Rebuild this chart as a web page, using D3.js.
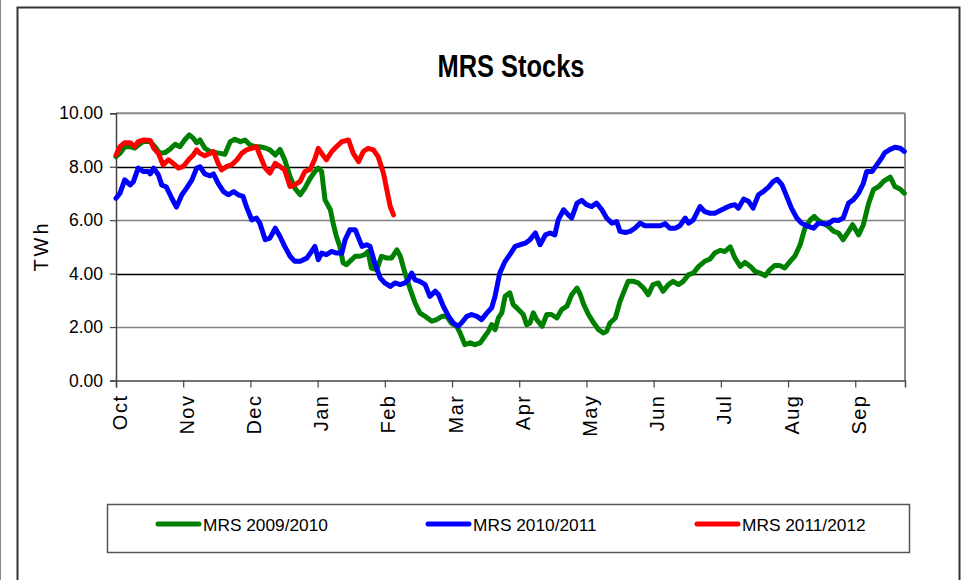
<!DOCTYPE html>
<html><head><meta charset="utf-8">
<script src="https://cdn.jsdelivr.net/npm/d3@7/dist/d3.min.js"></script>
<style>
body{margin:0;background:#fff}
svg{display:block}
text{font-family:"Liberation Sans",Arial,Helvetica,sans-serif;fill:#000}
</style>
</head><body>
<svg id="chart" width="961" height="580"></svg>
<script>
// ---------- data ----------
const chartTitle = "MRS Stocks";
const yAxisLabel = "TWh";
const monthLabels = ["Oct","Nov","Dec","Jan","Feb","Mar","Apr","May","Jun","Jul","Aug","Sep"];
const yTickValues = [0, 2, 4, 6, 8, 10];
const seriesNames = ["MRS 2009/2010", "MRS 2010/2011", "MRS 2011/2012"];
const seriesColors = ["#008000", "#0000ff", "#ff0000"];
const xMax = 11.74; // months after 1 Oct where the axis ends

// [months since 1 Oct, TWh]
const mrs2009 = [
 [0.00,8.38],[0.06,8.50],[0.13,8.75],[0.21,8.75],[0.28,8.70],[0.33,8.80],[0.41,8.95],[0.51,8.94],
 [0.58,8.75],[0.65,8.50],[0.73,8.53],[0.80,8.65],[0.88,8.84],[0.95,8.75],[1.03,9.03],[1.09,9.19],
 [1.15,9.07],[1.20,8.90],[1.25,9.00],[1.32,8.70],[1.40,8.57],[1.47,8.53],[1.55,8.50],[1.62,8.47],
 [1.70,8.94],[1.77,9.03],[1.85,8.94],[1.92,9.00],[1.99,8.82],[2.07,8.75],[2.14,8.75],[2.22,8.70],
 [2.29,8.63],[2.37,8.44],[2.44,8.65],[2.51,8.26],[2.59,7.63],[2.66,7.20],[2.74,6.95],[2.81,7.20],
 [2.89,7.57],[2.96,7.82],[3.01,7.95],[3.06,7.82],[3.11,6.76],[3.19,6.39],[3.23,5.89],[3.28,5.39],
 [3.33,5.02],[3.38,4.40],[3.43,4.33],[3.48,4.46],[3.56,4.65],[3.63,4.65],[3.70,4.71],[3.75,4.83],
 [3.80,4.21],[3.88,4.15],[3.95,4.65],[4.03,4.58],[4.10,4.58],[4.18,4.89],[4.23,4.65],[4.30,4.02],
 [4.38,3.40],[4.45,2.90],[4.52,2.53],[4.60,2.40],[4.70,2.22],[4.77,2.28],[4.85,2.40],[4.92,2.40],
 [4.99,2.15],[5.07,2.03],[5.12,1.78],[5.19,1.34],[5.27,1.41],[5.34,1.34],[5.42,1.41],[5.47,1.59],
 [5.54,1.84],[5.59,2.09],[5.64,1.90],[5.69,2.34],[5.74,2.53],[5.79,3.15],[5.86,3.28],[5.91,2.84],
 [5.99,2.65],[6.06,2.47],[6.11,2.09],[6.16,2.15],[6.21,2.53],[6.26,2.28],[6.34,2.03],[6.41,2.47],
 [6.48,2.47],[6.56,2.34],[6.63,2.65],[6.71,2.78],[6.78,3.21],[6.86,3.46],[6.91,3.21],[6.96,2.84],
 [7.03,2.47],[7.11,2.15],[7.18,1.90],[7.25,1.78],[7.30,1.84],[7.35,2.15],[7.43,2.34],[7.50,2.96],
 [7.57,3.40],[7.62,3.71],[7.70,3.71],[7.77,3.65],[7.85,3.46],[7.92,3.21],[7.99,3.59],[8.07,3.65],
 [8.14,3.34],[8.22,3.59],[8.29,3.71],[8.37,3.59],[8.44,3.71],[8.52,3.96],[8.59,4.02],[8.67,4.27],
 [8.76,4.46],[8.84,4.55],[8.91,4.77],[8.99,4.87],[9.06,4.83],[9.14,5.00],[9.21,4.58],[9.29,4.27],
 [9.36,4.42],[9.44,4.27],[9.51,4.08],[9.58,4.02],[9.66,3.92],[9.73,4.15],[9.80,4.30],[9.88,4.30],
 [9.95,4.21],[10.03,4.46],[10.10,4.65],[10.18,5.08],[10.25,5.70],[10.33,6.01],[10.39,6.14],[10.45,5.99],
 [10.53,5.87],[10.60,5.77],[10.68,5.58],[10.75,5.52],[10.82,5.27],[10.90,5.58],[10.96,5.83],[11.05,5.45],
 [11.12,5.83],[11.20,6.64],[11.27,7.14],[11.35,7.26],[11.42,7.45],[11.52,7.61],[11.59,7.26],[11.67,7.16],
 [11.73,7.01]
];
const mrs2010 = [
 [0.00,6.82],[0.06,7.01],[0.13,7.51],[0.21,7.32],[0.26,7.45],[0.33,7.95],[0.41,7.82],[0.48,7.82],
 [0.51,7.73],[0.56,7.95],[0.63,7.70],[0.68,7.32],[0.75,7.24],[0.83,6.82],[0.90,6.49],[0.98,6.95],
 [1.05,7.20],[1.13,7.51],[1.20,7.95],[1.25,8.00],[1.32,7.73],[1.40,7.66],[1.45,7.73],[1.52,7.38],
 [1.60,7.07],[1.67,6.95],[1.75,7.07],[1.82,6.95],[1.89,6.89],[1.94,6.51],[2.02,6.01],[2.09,6.08],
 [2.14,5.89],[2.22,5.27],[2.29,5.33],[2.37,5.70],[2.44,5.39],[2.51,5.02],[2.59,4.65],[2.66,4.46],
 [2.74,4.46],[2.84,4.58],[2.91,4.83],[2.96,5.02],[3.01,4.52],[3.06,4.77],[3.13,4.71],[3.21,4.83],
 [3.28,4.77],[3.36,4.77],[3.41,5.27],[3.48,5.64],[3.56,5.64],[3.61,5.33],[3.66,5.02],[3.73,5.08],
 [3.78,5.02],[3.85,4.40],[3.93,3.84],[4.00,3.65],[4.08,3.52],[4.15,3.65],[4.23,3.59],[4.30,3.65],
 [4.35,3.77],[4.40,4.02],[4.45,3.77],[4.52,3.71],[4.60,3.59],[4.67,3.15],[4.75,3.34],[4.80,3.21],
 [4.87,2.78],[4.95,2.40],[5.02,2.15],[5.09,2.03],[5.14,2.15],[5.22,2.40],[5.29,2.47],[5.37,2.40],
 [5.44,2.28],[5.52,2.53],[5.59,2.72],[5.64,3.15],[5.71,4.02],[5.79,4.46],[5.86,4.71],[5.94,5.02],
 [6.01,5.08],[6.09,5.14],[6.16,5.27],[6.24,5.52],[6.31,5.08],[6.39,5.45],[6.46,5.52],[6.53,5.45],
 [6.58,6.01],[6.66,6.39],[6.73,6.20],[6.78,6.08],[6.86,6.64],[6.93,6.74],[7.00,6.58],[7.08,6.51],
 [7.15,6.64],[7.23,6.39],[7.30,6.08],[7.38,5.89],[7.45,5.95],[7.50,5.58],[7.58,5.54],[7.65,5.58],
 [7.72,5.70],[7.80,5.89],[7.87,5.79],[7.95,5.79],[8.02,5.79],[8.10,5.79],[8.17,5.87],[8.24,5.70],
 [8.32,5.70],[8.39,5.79],[8.47,6.08],[8.52,5.89],[8.59,6.01],[8.69,6.51],[8.76,6.32],[8.84,6.26],
 [8.91,6.26],[8.99,6.36],[9.06,6.45],[9.14,6.54],[9.21,6.58],[9.26,6.45],[9.34,6.79],[9.41,6.71],
 [9.48,6.45],[9.56,6.95],[9.63,7.07],[9.71,7.24],[9.78,7.45],[9.84,7.53],[9.91,7.32],[9.98,6.89],
 [10.05,6.45],[10.13,6.08],[10.20,5.89],[10.28,5.79],[10.38,5.70],[10.45,5.89],[10.53,5.87],[10.60,5.87],
 [10.68,6.01],[10.75,5.99],[10.82,6.08],[10.90,6.64],[10.97,6.76],[11.05,7.01],[11.12,7.38],[11.17,7.82],
 [11.25,7.82],[11.32,8.07],[11.39,8.32],[11.44,8.53],[11.52,8.65],[11.59,8.73],[11.67,8.69],[11.73,8.57]
];
const mrs2011 = [
 [0.00,8.44],[0.06,8.75],[0.13,8.90],[0.21,8.90],[0.28,8.75],[0.33,8.94],[0.41,9.00],[0.51,8.98],
 [0.56,8.70],[0.63,8.50],[0.70,8.07],[0.78,8.26],[0.85,8.13],[0.93,7.95],[1.00,8.01],[1.08,8.26],
 [1.15,8.44],[1.20,8.63],[1.25,8.50],[1.32,8.41],[1.40,8.50],[1.45,8.57],[1.52,8.13],[1.57,7.88],
 [1.65,8.01],[1.72,8.07],[1.80,8.26],[1.87,8.50],[1.94,8.63],[2.02,8.69],[2.09,8.75],[2.14,8.44],
 [2.22,7.95],[2.29,7.76],[2.37,8.13],[2.44,8.01],[2.51,7.88],[2.59,7.26],[2.66,7.32],[2.74,7.45],
 [2.81,7.82],[2.89,7.90],[2.96,8.30],[3.01,8.69],[3.06,8.50],[3.13,8.26],[3.21,8.57],[3.28,8.75],
 [3.36,8.94],[3.46,9.00],[3.53,8.50],[3.61,8.19],[3.68,8.57],[3.75,8.69],[3.83,8.63],[3.90,8.38],
 [3.98,7.76],[4.03,7.14],[4.08,6.51],[4.13,6.20]
];
const allSeries = [mrs2009, mrs2010, mrs2011];

// ---------- layout ----------
const svg = d3.select("#chart");
const plotLeft = 116, plotRight = 905, plotTop = 113.3, plotBottom = 380.5;

const x = d3.scaleLinear().domain([0, xMax]).range([plotLeft, plotRight]);
const y = d3.scaleLinear().domain([0, 10]).range([plotBottom, plotTop]);

// outer frames
svg.append("line").attr("x1",0.5).attr("x2",0.5).attr("y1",0).attr("y2",580)
  .attr("stroke","#8a8a8a").attr("stroke-width",1);
svg.append("rect").attr("x",17.5).attr("y",7.5).attr("width",942).attr("height",600)
  .attr("fill","none").attr("stroke","#333").attr("stroke-width",2);

// title
svg.append("text").attr("x",511).attr("y",77)
  .attr("text-anchor","middle").attr("font-size",32).attr("font-weight","bold")
  .attr("textLength",147).attr("lengthAdjust","spacingAndGlyphs")
  .text(chartTitle);

// grid lines
svg.append("g").selectAll("line").data(yTickValues.filter(v => v > 0 && v < 10)).join("line")
  .attr("x1",plotLeft).attr("x2",plotRight)
  .attr("y1",d => Math.round(y(d)) + 0.5).attr("y2",d => Math.round(y(d)) + 0.5)
  .attr("stroke",d => (d % 4 === 0) ? "#000" : "#808080").attr("stroke-width",1.3);

// plot frame top / right
svg.append("line").attr("x1",plotLeft).attr("x2",plotRight).attr("y1",y(10)).attr("y2",y(10))
  .attr("stroke","#888").attr("stroke-width",2);
svg.append("line").attr("x1",plotRight).attr("x2",plotRight).attr("y1",y(10)).attr("y2",y(0))
  .attr("stroke","#888").attr("stroke-width",2);

// y axis
const yAxis = d3.axisLeft(y).tickValues(yTickValues).tickFormat(d3.format(".2f")).tickSizeOuter(0).tickSize(6).tickPadding(7);
const gy = svg.append("g").attr("transform",`translate(${plotLeft},0)`).call(yAxis);
gy.select(".domain").attr("stroke","#444").attr("stroke-width",1.5);
gy.selectAll(".tick line").attr("stroke","#444").attr("stroke-width",1.2);
gy.selectAll(".tick text").attr("font-size",17.5).attr("font-family","Liberation Sans, Arial, sans-serif").attr("fill","#000");

// x axis
const xAxis = d3.axisBottom(x).tickValues(d3.range(monthLabels.length)).tickFormat(i => monthLabels[i])
  .tickSizeOuter(0).tickSize(7);
const gx = svg.append("g").attr("transform",`translate(0,${plotBottom})`).call(xAxis);
gx.select(".domain").attr("stroke","#444").attr("stroke-width",1.5);
gx.selectAll(".tick line").attr("stroke","#444").attr("stroke-width",1.2);
gx.selectAll(".tick text")
  .attr("font-size",20).attr("font-family","Liberation Sans, Arial, sans-serif").attr("fill","#000")
  .attr("letter-spacing",1.5)
  .attr("text-anchor","end").attr("transform","rotate(-90)")
  .attr("x",-14).attr("y",0).attr("dy","0.5em").attr("dx",0);

// y label
svg.append("text").attr("transform","translate(48,246) rotate(-90)")
  .attr("text-anchor","middle").attr("font-size",20).attr("letter-spacing",3)
  .text(yAxisLabel);

// lines
const lineGen = d3.line().x(d => x(d[0])).y(d => y(d[1])).curve(d3.curveLinear);
svg.append("g").selectAll("path").data(allSeries).join("path")
  .attr("d",lineGen).attr("fill","none")
  .attr("stroke",(d,i) => seriesColors[i]).attr("stroke-width",5)
  .attr("stroke-linejoin","round").attr("stroke-linecap","round");

// legend
svg.append("rect").attr("x",107.5).attr("y",504.5).attr("width",802).attr("height",48)
  .attr("fill","none").attr("stroke","#555").attr("stroke-width",1.5);
const legendX = [158, 428, 697];
const lg = svg.append("g").selectAll("g").data(seriesNames).join("g")
  .attr("transform",(d,i) => `translate(${legendX[i]},524)`);
lg.append("line").attr("x1",0).attr("x2",41).attr("y1",0).attr("y2",0)
  .attr("stroke",(d,i) => seriesColors[i]).attr("stroke-width",5).attr("stroke-linecap","round");
lg.append("text").attr("x",45).attr("y",7).attr("font-size",17.3).text(d => d);
</script>
</body></html>
